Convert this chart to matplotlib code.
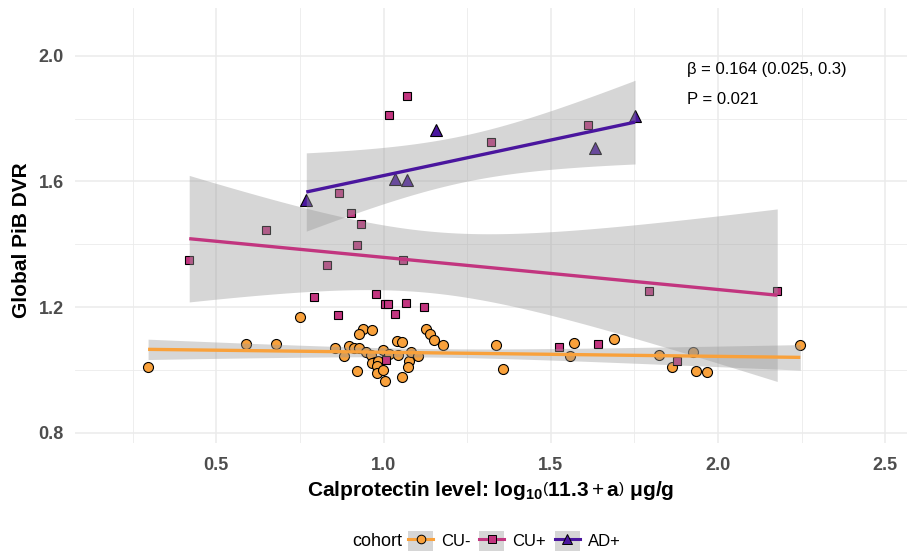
import numpy as np
import matplotlib
matplotlib.use("Agg")
import matplotlib.pyplot as plt
from matplotlib.patches import Patch
from matplotlib.lines import Line2D

plt.rcParams['font.family'] = ['Liberation Sans', 'DejaVu Sans']
plt.rcParams['mathtext.fontset'] = 'custom'
plt.rcParams['mathtext.rm'] = 'Liberation Sans'
plt.rcParams['mathtext.bf'] = 'Liberation Sans:bold'
plt.rcParams['mathtext.it'] = 'Liberation Sans:italic'

# ---------------- data ----------------
cohorts = ["CU-", "CU+", "AD+"]

cu_neg_x = [0.296, 0.590, 0.677, 0.751, 0.939, 0.966, 0.928, 0.856, 0.896, 0.911,
            0.928, 0.881, 0.949, 0.963, 0.974, 0.965, 0.982, 0.981, 0.979, 0.920,
            0.999, 1.005, 0.999, 1.016, 1.039, 1.056, 1.044, 1.054, 1.076, 1.082,
            1.074, 1.104, 1.126, 1.140, 1.152, 1.178, 1.337, 1.358, 1.558, 1.570,
            1.688, 1.824, 1.862, 1.924, 1.934, 1.966, 2.246]
cu_neg_y = [1.009, 1.082, 1.082, 1.170, 1.131, 1.129, 1.114, 1.071, 1.076, 1.071,
            1.069, 1.044, 1.056, 1.048, 1.026, 1.021, 1.028, 1.012, 0.992, 0.998,
            1.000, 0.964, 1.065, 1.051, 1.093, 1.090, 1.048, 0.977, 1.028, 1.057,
            1.010, 1.044, 1.132, 1.114, 1.095, 1.079, 1.081, 1.003, 1.044, 1.087,
            1.100, 1.047, 1.010, 1.058, 0.997, 0.994, 1.081]

cu_pos_x = [0.419, 0.649, 0.791, 0.832, 0.863, 0.866, 0.903, 0.920, 0.933, 0.977,
            1.004, 1.012, 1.008, 1.016, 1.033, 1.059, 1.067, 1.071, 1.120, 1.322,
            1.525, 1.612, 1.642, 1.794, 1.876, 2.177]
cu_pos_y = [1.349, 1.446, 1.231, 1.335, 1.174, 1.562, 1.501, 1.398, 1.464, 1.241,
            1.210, 1.210, 1.031, 1.810, 1.177, 1.349, 1.215, 1.872, 1.201, 1.726,
            1.074, 1.779, 1.082, 1.251, 1.028, 1.251]

ad_pos_x = [0.769, 1.034, 1.071, 1.156, 1.633, 1.752]
ad_pos_y = [1.540, 1.609, 1.606, 1.763, 1.707, 1.808]

x_ticks = [0.5, 1.0, 1.5, 2.0, 2.5]
x_tick_labels = ["0.5", "1.0", "1.5", "2.0", "2.5"]
y_ticks = [0.8, 1.2, 1.6, 2.0]
y_tick_labels = ["0.8", "1.2", "1.6", "2.0"]

annot_beta = "β = 0.164 (0.025, 0.3)"
annot_p = "P = 0.021"

# ---------------- style ----------------
colors = {"CU-": "#F9A13B", "CU+": "#C2357F", "AD+": "#4A169E"}
markers = {"CU-": "o", "CU+": "s", "AD+": "^"}
msize = {"CU-": 7.2, "CU+": 6.4, "AD+": 8.5}
band_color = "#999999"


def t_quantile(df, p=0.975):
    z = 1.959963985
    v = float(df)
    return (z + (z**3 + z) / (4 * v)
            + (5 * z**5 + 16 * z**3 + 3 * z) / (96 * v**2)
            + (3 * z**7 + 19 * z**5 + 17 * z**3 - 15 * z) / (384 * v**3)
            + (79 * z**9 + 776 * z**7 + 1482 * z**5 - 1920 * z**3 - 945 * z) / (92160 * v**4))


def lm_band(x, y, n_out=80):
    x = np.asarray(x, float)
    y = np.asarray(y, float)
    n = len(x)
    b1, b0 = np.polyfit(x, y, 1)
    resid = y - (b0 + b1 * x)
    s = np.sqrt(np.sum(resid**2) / (n - 2))
    xbar = x.mean()
    sxx = np.sum((x - xbar) ** 2)
    xs = np.linspace(x.min(), x.max(), n_out)
    yh = b0 + b1 * xs
    se = s * np.sqrt(1.0 / n + (xs - xbar) ** 2 / sxx)
    t = t_quantile(n - 2)
    return xs, yh, yh - t * se, yh + t * se


W, H = 907, 555
fig = plt.figure(figsize=(W / 100, H / 100), dpi=100)
left_px, right_px, top_px, bot_px = 75, 907, 8, 443
ax = fig.add_axes([left_px / W, 1 - bot_px / H, (right_px - left_px) / W, (bot_px - top_px) / H])

ax.set_xlim(0.0775, 2.565)
ax.set_ylim(0.768, 2.152)

for s in ax.spines.values():
    s.set_visible(False)

ax.set_xticks(x_ticks)
ax.set_xticklabels(x_tick_labels)
ax.set_yticks(y_ticks)
ax.set_yticklabels(y_tick_labels)
ax.set_xticks([0.25, 0.75, 1.25, 1.75, 2.25], minor=True)
ax.set_yticks([1.0, 1.4, 1.8], minor=True)
ax.tick_params(which='both', length=0)
ax.tick_params(axis='both', labelsize=13, labelcolor='#4D4D4D')
for lab in ax.get_xticklabels() + ax.get_yticklabels():
    lab.set_fontweight('bold')
ax.tick_params(axis='x', pad=10)
ax.tick_params(axis='y', pad=8)
ax.grid(which='major', color='#EBEBEB', linewidth=1.1)
ax.grid(which='minor', color='#EBEBEB', linewidth=0.6)
ax.set_axisbelow(True)

groups = [("CU-", cu_neg_x, cu_neg_y), ("CU+", cu_pos_x, cu_pos_y), ("AD+", ad_pos_x, ad_pos_y)]

# points first
for name, xs, ys in groups:
    ax.plot(xs, ys, linestyle='none', marker=markers[name], markersize=msize[name],
            markerfacecolor=colors[name], markeredgecolor='black', markeredgewidth=0.8,
            zorder=2)

# smooth bands and lines
for name, xs, ys in groups:
    fx, fy, lo, hi = lm_band(xs, ys)
    ax.fill_between(fx, lo, hi, color=band_color, alpha=0.4, linewidth=0, zorder=3)
    ax.plot(fx, fy, color=colors[name], linewidth=2.4, zorder=4, solid_capstyle='butt')

ax.set_xlabel(r"Calprotectin level: $\mathbf{log}_{\mathbf{10}}\left(\mathbf{11.3} + \mathbf{a}\right)$ μg/g",
              fontsize=15, fontweight='bold', labelpad=4)
ax.set_ylabel("Global PiB DVR", fontsize=15, fontweight='bold')
ax.yaxis.label.set_verticalalignment('center')
ax.yaxis.set_label_coords(-(left_px - 22) / (right_px - left_px), 1 - (240 - top_px) / (bot_px - top_px))

ax.text(1.908, 1.955, annot_beta, fontsize=12, ha='left', va='center')
ax.text(1.908, 1.862, annot_p, fontsize=12, ha='left', va='center')

# legend
handles = []
for name in cohorts:
    handles.append((Patch(facecolor='#D6D6D6', edgecolor='none'),
                    Line2D([], [], color=colors[name], linewidth=2.2, marker=markers[name],
                           markersize=msize[name] - 1, markerfacecolor=colors[name],
                           markeredgecolor='black', markeredgewidth=0.7)))
fig.text(352 / W, 1 - 541 / H, "cohort", fontsize=13, ha='left', va='center')
fig.legend(handles, cohorts, loc='center left', bbox_to_anchor=(408 / W, 1 - 541 / H),
           ncol=3, frameon=False, fontsize=12, handlelength=1.5, handleheight=1.5,
           handletextpad=0.5, columnspacing=0.5, borderpad=0, borderaxespad=0)

fig.savefig("out.png", dpi=100)
